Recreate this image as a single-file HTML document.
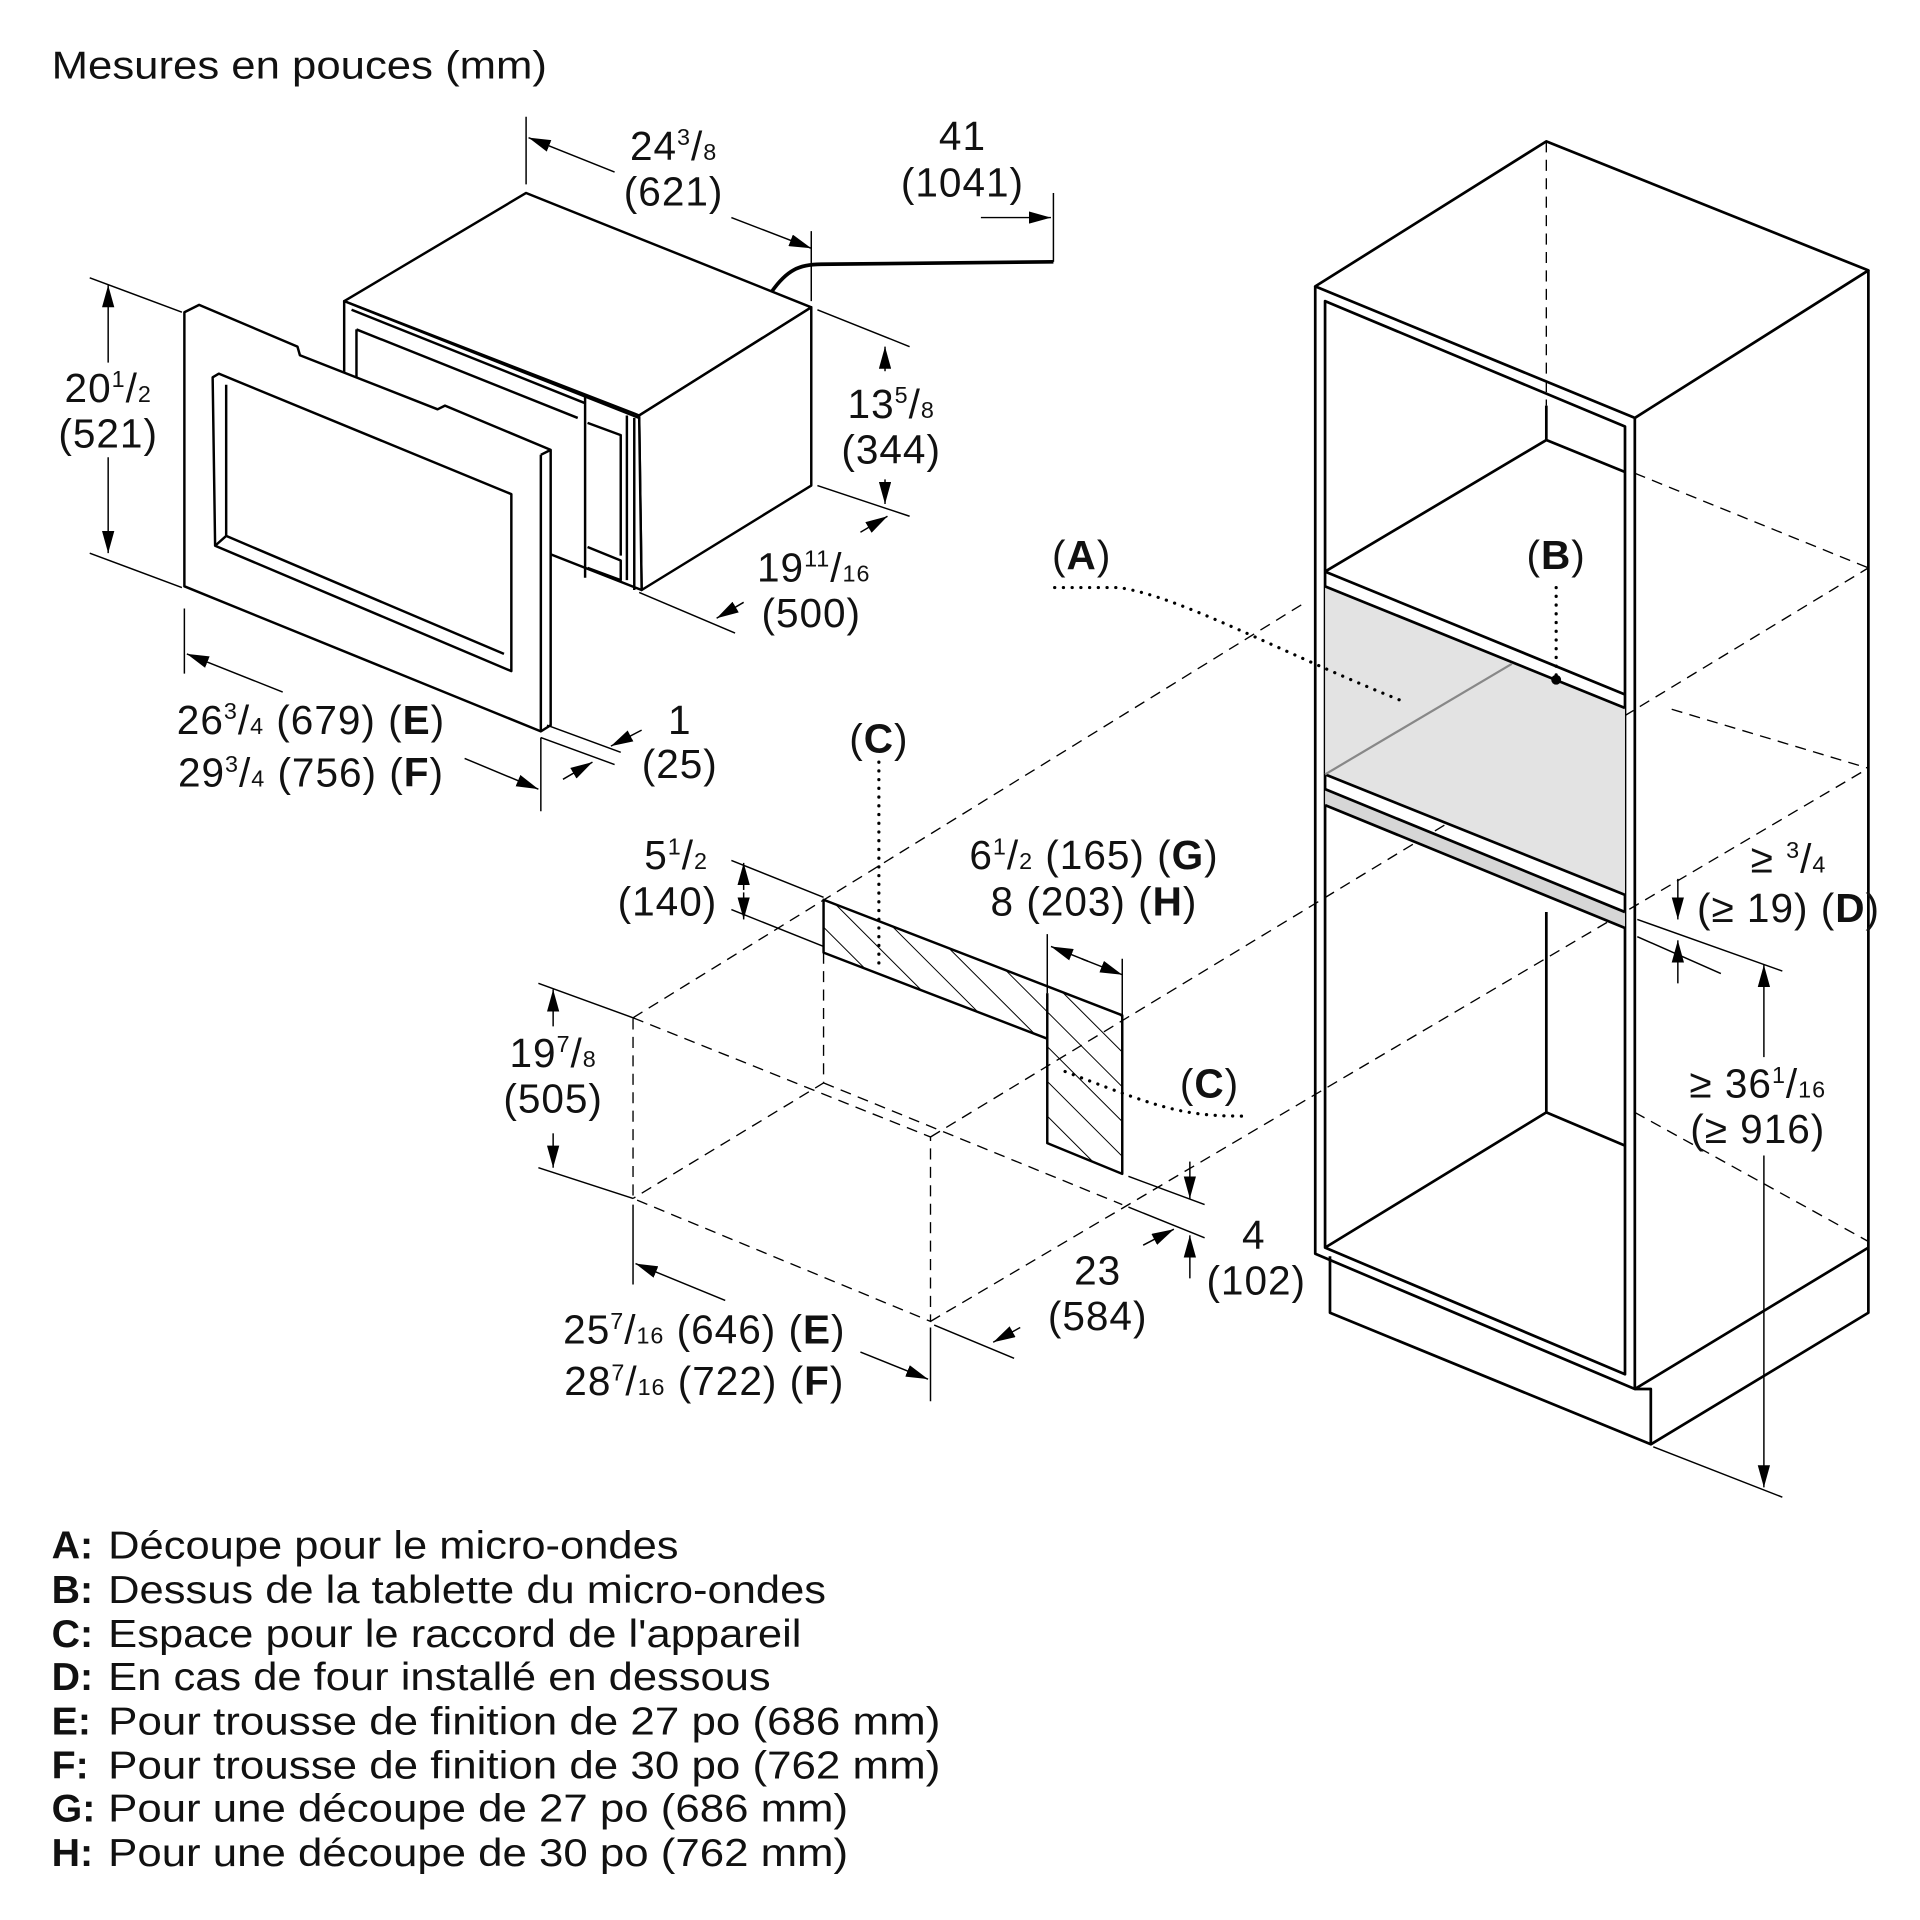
<!DOCTYPE html>
<html><head><meta charset="utf-8"><style>
html,body{margin:0;padding:0;background:#fff;}
svg{display:block;}
text{font-family:"Liberation Sans",Arial,sans-serif;fill:#111;}
</style></head><body>
<svg width="1920" height="1920" viewBox="0 0 1562 1562" xmlns="http://www.w3.org/2000/svg">
<defs>
<marker id="ar" markerUnits="userSpaceOnUse" markerWidth="18" markerHeight="10" refX="18" refY="5" orient="auto">
<path d="M0,0 L18,5 L0,10 z" fill="#000"/></marker>
<pattern id="hat" patternUnits="userSpaceOnUse" width="20" height="20" patternTransform="rotate(-45)">
<line x1="0" y1="0" x2="0" y2="20" stroke="#000" stroke-width="1.6"/></pattern>
</defs>
<rect width="1562" height="1562" fill="#fff"/>

<g font-size="32">
<text x="42" y="64" textLength="403" lengthAdjust="spacingAndGlyphs">Mesures en pouces (mm)</text>
</g>

<g fill="none" stroke="#000" stroke-width="2" stroke-linejoin="round">
<path d="M280,245 L428,157 L660,250 L520,338 Z" fill="#fff"/>
<path d="M520,338 L660,250 L660,395 L522,480 Z" fill="#fff"/>
<path d="M280,245 L520,340 L522,480 L280,385 Z" fill="#fff"/>
<path d="M286,252 L476,328 M476,322 L476,470 M510,338 L510,472 M516,340 L516,480"/>
<path d="M290,268 L470,340 M290,268 L290,380 M478,344 L505,354 L505,452 M478,445 L505,456 L505,472 L478,462"/>
<path d="M290,350 L420,402 L420,430"/>
<path d="M628,237 C640,220 650,215 668,215 L857,213" stroke-width="3"/>
<path d="M150,254 L162,248 L242,282 L244,289 L356,333 L362,330 L448,366 L448,590 L440,595 L150,477 Z" fill="#fff"/>
<path d="M440,370 L440,595 M440,370 L448,366"/>
<path d="M173,307 L178,304 L416,402 L416,546 L175,444 Z"/>
<path d="M184,313 L184,436 L410,532 M175,444 L184,436"/>
</g>

<g stroke="#000" stroke-width="1.2" fill="none">
<path d="M428,95 L428,150 M660,188 L660,245"/>
<path d="M500,140 L430,112" marker-end="url(#ar)"/>
<path d="M595,177 L660,202" marker-end="url(#ar)"/>
<path d="M798,177 L855,177" marker-end="url(#ar)"/>
<path d="M857,157 L857,213"/>
<path d="M73,226 L148,254 M73,450 L148,478"/>
<path d="M88,295 L88,232" marker-end="url(#ar)"/>
<path d="M88,372 L88,450" marker-end="url(#ar)"/>
<path d="M665,252 L740,282 M665,395 L740,420"/>
<path d="M720,302 L720,282" marker-end="url(#ar)"/>
<path d="M720,390 L720,410" marker-end="url(#ar)"/>
<path d="M520,482 L598,515"/>
<path d="M605,490 L583,503" marker-end="url(#ar)"/>
<path d="M700,433 L722,420" marker-end="url(#ar)"/>
<path d="M150,495 L150,548 M440,600 L440,660"/>
<path d="M230,563 L152,532" marker-end="url(#ar)"/>
<path d="M378,617 L438,642" marker-end="url(#ar)"/>
<path d="M445,590 L505,612 M440,600 L500,622"/>
<path d="M522,594 L497,607" marker-end="url(#ar)"/>
<path d="M458,634 L482,620" marker-end="url(#ar)"/>
</g>

<g font-size="33" text-anchor="middle" letter-spacing="0.8">
<text x="548" y="130">24<tspan font-size="19" dy="-12">3</tspan><tspan dy="12">/</tspan><tspan font-size="19">8</tspan></text>
<text x="548" y="167">(621)</text>
<text x="783" y="122">41</text>
<text x="783" y="160">(1041)</text>
<text x="88" y="327">20<tspan font-size="19" dy="-12">1</tspan><tspan dy="12">/</tspan><tspan font-size="19">2</tspan></text>
<text x="88" y="364">(521)</text>
<text x="725" y="340">13<tspan font-size="19" dy="-12">5</tspan><tspan dy="12">/</tspan><tspan font-size="19">8</tspan></text>
<text x="725" y="377">(344)</text>
<text x="662" y="473">19<tspan font-size="19" dy="-12">11</tspan><tspan dy="12">/</tspan><tspan font-size="19">16</tspan></text>
<text x="660" y="510">(500)</text>
<text x="253" y="597">26<tspan font-size="19" dy="-12">3</tspan><tspan dy="12">/</tspan><tspan font-size="19">4</tspan> (679) (<tspan font-weight="bold">E</tspan>)</text>
<text x="253" y="640">29<tspan font-size="19" dy="-12">3</tspan><tspan dy="12">/</tspan><tspan font-size="19">4</tspan> (756) (<tspan font-weight="bold">F</tspan>)</text>
<text x="553" y="597">1</text>
<text x="553" y="633">(25)</text>
</g>

<g stroke="#000" stroke-width="1.1" fill="none" stroke-dasharray="9,6">
<path d="M515,828 L1062,490"/>
<path d="M757,925 L1520,462"/>
<path d="M757,1075 L1520,625"/>
<path d="M515,828 L757,925 L757,1075 L515,975 Z"/>
<path d="M670,775 L670,881 L515,975 M670,881 L913,980"/>
<path d="M1330,385 L1520,462 M1360,577 L1520,625 M1330,905 L1520,1010"/>
<path d="M1258,115 L1258,330"/>
</g>

<g stroke="#000" stroke-width="2" stroke-linejoin="round">
<path d="M670,732 L913,826 L913,955 L852,930 L852,845 L670,775 Z" fill="url(#hat)"/>
<path d="M852,808 L852,845" fill="none"/>
</g>

<g fill="none" stroke="#000" stroke-width="2.2" stroke-linejoin="round">
<path d="M1070,233 L1258,115 L1520,220 L1330,340 Z"/>
<path d="M1520,220 L1520,1068 L1343,1175 L1082,1068 L1082,1022"/>
<path d="M1070,233 L1070,1020 L1330,1130 L1330,340"/>
<path d="M1330,1130 L1343,1130 L1343,1175 M1330,1130 L1520,1015"/>
<path d="M1078,245 L1322,347 L1322,1118 L1078,1015 Z"/>
<path d="M1258,330 L1258,358 L1078,465 M1258,358 L1322,384"/>
<path d="M1078,465 L1322,565"/>
</g>
<path d="M1078,477 L1322,576 L1322,728 L1078,630 Z" fill="#e3e3e3" stroke="none"/>
<path d="M1078,642 L1322,742 L1322,755 L1078,655 Z" fill="#d6d6d6" stroke="none"/>
<g fill="none" stroke="#000" stroke-width="2.2">
<path d="M1078,477 L1322,576"/>
<path d="M1078,630 L1322,728 M1078,642 L1322,742 M1078,655 L1322,755"/>
<path d="M1258,742 L1258,905 L1078,1015 M1258,905 L1322,932"/>
</g>
<path d="M1078,630 L1230,540" stroke="#888" stroke-width="1.8"/>

<g fill="none" stroke="#000" stroke-width="2.6" stroke-dasharray="0.1,7" stroke-linecap="round">
<path d="M858,478 L910,478 C960,485 1040,530 1140,570"/>
<path d="M1266,478 L1266,552"/>
<path d="M715,620 L715,790"/>
<path d="M1010,908 C960,908 940,900 862,870"/>
</g>
<circle cx="1266" cy="553" r="4" fill="#000"/>

<g stroke="#000" stroke-width="1.2" fill="none">
<path d="M595,700 L670,730 M595,740 L670,770"/>
<path d="M605,724 L605,702" marker-end="url(#ar)"/>
<path d="M605,726 L605,748" marker-end="url(#ar)"/>
<path d="M852,760 L852,808 M913,780 L913,826"/>
<path d="M885,782 L855,770" marker-end="url(#ar)"/>
<path d="M880,780 L913,793" marker-end="url(#ar)"/>
<path d="M438,800 L515,828 M438,950 L515,975"/>
<path d="M450,835 L450,805" marker-end="url(#ar)"/>
<path d="M450,922 L450,950" marker-end="url(#ar)"/>
<path d="M515,980 L515,1045 M757,1080 L757,1140"/>
<path d="M590,1058 L517,1028" marker-end="url(#ar)"/>
<path d="M700,1100 L755,1122" marker-end="url(#ar)"/>
<path d="M760,1078 L825,1105 M918,982 L980,1007 M918,957 L980,980"/>
<path d="M830,1080 L808,1092" marker-end="url(#ar)"/>
<path d="M930,1013 L955,1000" marker-end="url(#ar)"/>
<path d="M968,945 L968,975" marker-end="url(#ar)"/>
<path d="M968,1040 L968,1005" marker-end="url(#ar)"/>
<path d="M1332,748 L1450,790 M1332,762 L1400,792 M1345,1177 L1450,1218"/>
<path d="M1365,715 L1365,748" marker-end="url(#ar)"/>
<path d="M1365,800 L1365,765" marker-end="url(#ar)"/>
<path d="M1435,860 L1435,785" marker-end="url(#ar)"/>
<path d="M1435,940 L1435,1210" marker-end="url(#ar)"/>
</g>

<g font-size="33" text-anchor="middle" letter-spacing="0.8">
<text x="880" y="463">(<tspan font-weight="bold">A</tspan>)</text>
<text x="1266" y="463">(<tspan font-weight="bold">B</tspan>)</text>
<text x="715" y="612">(<tspan font-weight="bold">C</tspan>)</text>
<text x="984" y="893">(<tspan font-weight="bold">C</tspan>)</text>
<text x="550" y="707">5<tspan font-size="19" dy="-12">1</tspan><tspan dy="12">/</tspan><tspan font-size="19">2</tspan></text>
<text x="543" y="745">(140)</text>
<text x="890" y="707">6<tspan font-size="19" dy="-12">1</tspan><tspan dy="12">/</tspan><tspan font-size="19">2</tspan> (165) (<tspan font-weight="bold">G</tspan>)</text>
<text x="890" y="745">8 (203) (<tspan font-weight="bold">H</tspan>)</text>
<text x="450" y="868">19<tspan font-size="19" dy="-12">7</tspan><tspan dy="12">/</tspan><tspan font-size="19">8</tspan></text>
<text x="450" y="905">(505)</text>
<text x="893" y="1045">23</text>
<text x="893" y="1082">(584)</text>
<text x="1020" y="1016">4</text>
<text x="1022" y="1053">(102)</text>
<text x="573" y="1093">25<tspan font-size="19" dy="-12">7</tspan><tspan dy="12">/</tspan><tspan font-size="19">16</tspan> (646) (<tspan font-weight="bold">E</tspan>)</text>
<text x="573" y="1135">28<tspan font-size="19" dy="-12">7</tspan><tspan dy="12">/</tspan><tspan font-size="19">16</tspan> (722) (<tspan font-weight="bold">F</tspan>)</text>
<text x="1455" y="710">≥ <tspan font-size="19" dy="-12">3</tspan><tspan dy="12">/</tspan><tspan font-size="19">4</tspan></text>
<text x="1455" y="750">(≥ 19) (<tspan font-weight="bold">D</tspan>)</text>
<text x="1430" y="893">≥ 36<tspan font-size="19" dy="-12">1</tspan><tspan dy="12">/</tspan><tspan font-size="19">16</tspan></text>
<text x="1430" y="930">(≥ 916)</text>
</g>

<g font-size="32">
<text x="42" y="1268" font-weight="bold">A:</text><text x="88" y="1268" textLength="464" lengthAdjust="spacingAndGlyphs">Découpe pour le micro-ondes</text>
<text x="42" y="1304" font-weight="bold">B:</text><text x="88" y="1304" textLength="584" lengthAdjust="spacingAndGlyphs">Dessus de la tablette du micro-ondes</text>
<text x="42" y="1340" font-weight="bold">C:</text><text x="88" y="1340" textLength="564" lengthAdjust="spacingAndGlyphs">Espace pour le raccord de l'appareil</text>
<text x="42" y="1375" font-weight="bold">D:</text><text x="88" y="1375" textLength="539" lengthAdjust="spacingAndGlyphs">En cas de four installé en dessous</text>
<text x="42" y="1411" font-weight="bold">E:</text><text x="88" y="1411" textLength="677" lengthAdjust="spacingAndGlyphs">Pour trousse de finition de 27 po (686 mm)</text>
<text x="42" y="1447" font-weight="bold">F:</text><text x="88" y="1447" textLength="677" lengthAdjust="spacingAndGlyphs">Pour trousse de finition de 30 po (762 mm)</text>
<text x="42" y="1482" font-weight="bold">G:</text><text x="88" y="1482" textLength="602" lengthAdjust="spacingAndGlyphs">Pour une découpe de 27 po (686 mm)</text>
<text x="42" y="1518" font-weight="bold">H:</text><text x="88" y="1518" textLength="602" lengthAdjust="spacingAndGlyphs">Pour une découpe de 30 po (762 mm)</text>
</g>
</svg>
</body></html>
